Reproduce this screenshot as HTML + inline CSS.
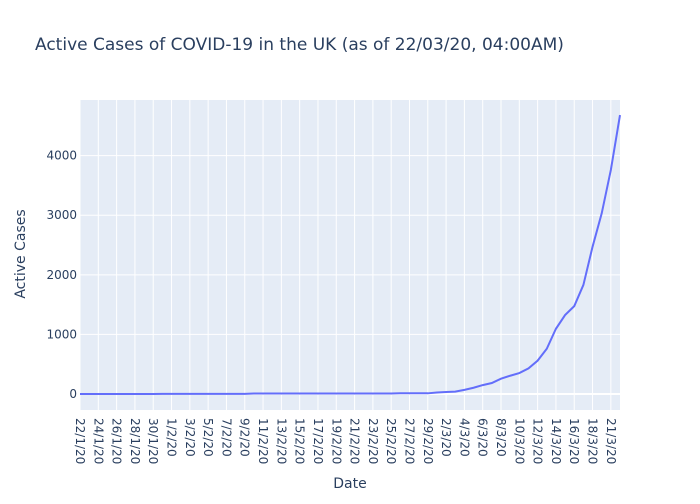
<!DOCTYPE html>
<html><head><meta charset="utf-8"><style>
body{margin:0;background:#fff;font-family:"DejaVu Sans",sans-serif;}
</style></head><body>
<svg id="chart" width="700" height="500" xmlns="http://www.w3.org/2000/svg" font-family="DejaVu Sans, sans-serif">
<rect width="700" height="500" fill="#fff"/>
<text x="35" y="50" font-size="17" fill="#2a3f5f">Active Cases of COVID-19 in the UK (as of 22/03/20, 04:00AM)</text>
<rect x="80" y="100" width="540" height="310" fill="#e5ecf6"/>
<g id="grid"></g><g id="yt"></g><g id="xt"></g>
<path id="line" fill="none" stroke="#636efa" stroke-width="2"/>
<text x="350" y="488" font-size="14" fill="#2a3f5f" text-anchor="middle">Date</text>
<text x="25" y="254" font-size="14" fill="#2a3f5f" text-anchor="middle" transform="rotate(-90 25 254)">Active Cases</text>
</svg>
<script>
const dates=[];
for(let d=22;d<=31;d++)dates.push(d+"/1/20");
for(let d=1;d<=29;d++)dates.push(d+"/2/20");
for(let d=1;d<=19;d++)dates.push(d+"/3/20");
dates.push("21/3/20","22/3/20");
const janVals=[0,0,0,0,0,0,0,0,0,2];
const febVals=[2,2,2,2,2,3,3,3,3,8,8,8,9,9,9,9,9,9,9,9,9,9,9,9,9,13,13,14,12];
const marVals=[25,35,40,70,105,150,185,257,307,352,430,560,760,1095,1325,1475,1830,2470,3030,3760,4680];
const values=janVals.concat(febVals,marVals);
const yTicks=[0,1000,2000,3000,4000];
const ns="http://www.w3.org/2000/svg";
const L=80,R=620,T=100,B=410,yMin=-268,yMax=4933;
const xs=i=>L+i*(R-L)/(dates.length-1);
const ys=v=>B-(v-yMin)/(yMax-yMin)*(B-T);
const grid=document.getElementById('grid'),yt=document.getElementById('yt'),xt=document.getElementById('xt');
function mk(t,a,p){const e=document.createElementNS(ns,t);for(const k in a)e.setAttribute(k,a[k]);p.appendChild(e);return e;}
dates.forEach((d,i)=>{
 if(i%2!==0 && d!=="21/3/20")return;
 if(d==="22/3/20")return;
 const x=xs(i);
 const g=mk('line',{x1:x,x2:x,y1:T,y2:B,stroke:'#fff','stroke-width':1},grid);
 
 
 const t=mk('text',{x:0,y:0,'font-size':12,fill:'#2a3f5f',transform:`translate(${x-4},418) rotate(90)`},xt);
 
 
 t.textContent=d;
});
yTicks.forEach(v=>{
 const y=ys(v);
 const g=mk('line',{x1:L,x2:R,y1:y,y2:y,stroke:'#fff','stroke-width':v===0?2:1},grid);
 
 
 const t=mk('text',{x:L-3,y:y+4,'font-size':12,fill:'#2a3f5f','text-anchor':'end'},yt);
 
 
 t.textContent=String(v);
});
document.getElementById('line').setAttribute('d',values.map((v,i)=>(i?'L':'M')+xs(i).toFixed(2)+','+ys(v).toFixed(2)).join(''));
</script>
</body></html>
